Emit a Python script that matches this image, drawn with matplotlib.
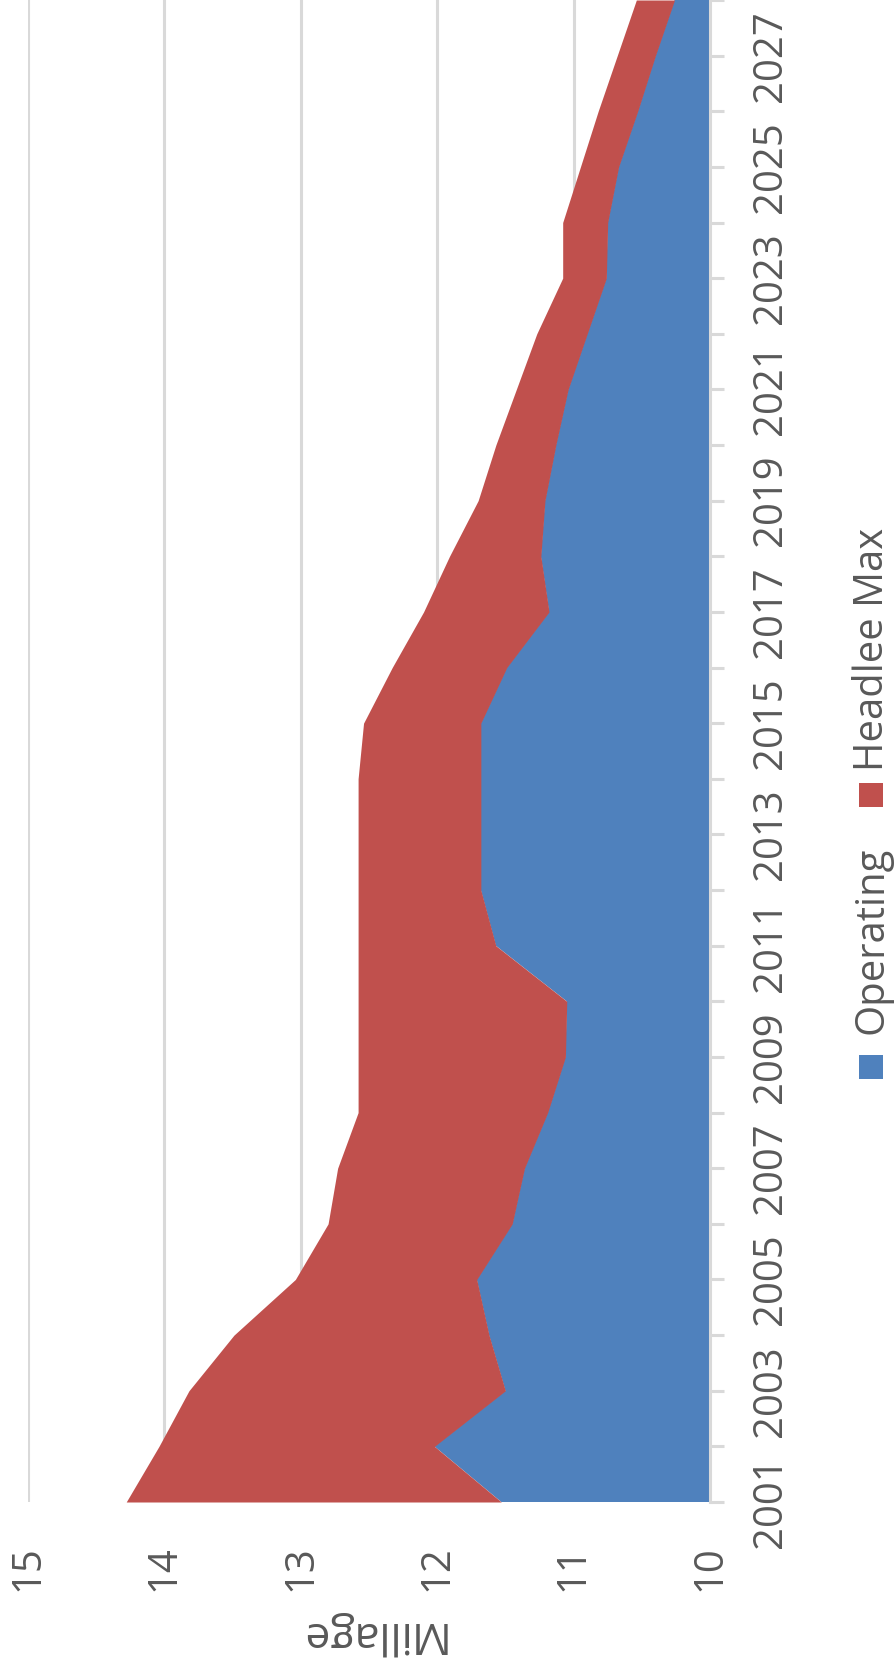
import matplotlib
matplotlib.use("Agg")
import matplotlib.pyplot as plt
from matplotlib.patches import Rectangle
import numpy as np

# Millage by year: operating levy plus the additional Headlee maximum on top
years = list(range(2001, 2029))
operating = [11.53, 12.02, 11.50, 11.62, 11.71, 11.45, 11.36, 11.19, 11.06, 11.05,
             11.57, 11.68, 11.68, 11.68, 11.68, 11.49, 11.18, 11.24, 11.21, 11.13,
             11.04, 10.90, 10.76, 10.75, 10.67, 10.53, 10.40, 10.26]
headlee_max = [2.75, 2.02, 2.32, 1.87, 1.33, 1.35, 1.37, 1.39, 1.52, 1.53,
               1.01, 0.90, 0.90, 0.90, 0.86, 0.84, 0.92, 0.67, 0.49, 0.44,
               0.38, 0.37, 0.32, 0.33, 0.28, 0.29, 0.28, 0.28]
series_names = ["Operating", "Headlee Max"]
value_ticks = [10, 11, 12, 13, 14, 15]
year_labels = [str(y) for y in range(2001, 2029, 2)]

BLUE = "#4F81BD"
RED = "#C0504D"
GRID = "#D9D9D9"
TEXT = "#595959"

plt.rcParams["font.family"] = ["Open Sans", "DejaVu Sans"]

W, H = 895, 1663
fig = plt.figure(figsize=(W / 100, H / 100), dpi=100)

# plot area in pixel terms
left_px, right_px, top_px, bottom_px = 28, 710, 0, 1502
ax = fig.add_axes([left_px / W, 1 - bottom_px / H,
                   (right_px - left_px) / W, (bottom_px - top_px) / H])

yrs = np.array(years, dtype=float)
op = np.array(operating)
top = op + np.array(headlee_max)

ax.fill_betweenx(yrs, 0, op, color=BLUE, linewidth=0, zorder=2)
ax.fill_betweenx(yrs, op, top, color=RED, linewidth=0, zorder=2)

ax.set_xlim(15, 10)
ax.set_ylim(2001, 2027.95)

# value axis: gridlines, labels only
ax.set_xticks(value_ticks)
ax.set_xticklabels([str(v) for v in value_ticks], rotation=90, color=TEXT,
                   fontsize=28.8)
ax.tick_params(axis="x", length=0, pad=31)
ax.grid(axis="x", color=GRID, linewidth=2.2, zorder=0)
ax.set_axisbelow(True)

# category axis on the right
ax.yaxis.tick_right()
ax.set_yticks(range(2001, 2029, 2))
ax.set_yticks(range(2002, 2029, 2), minor=True)
ax.set_yticklabels(year_labels, rotation=90, va="center", color=TEXT,
                   fontsize=28.8)
ax.tick_params(axis="y", which="both", direction="out", length=10, width=2.2,
               color=GRID, pad=19, left=False, right=True)
ax.tick_params(axis="y", which="minor", labelright=False)

for side in ["left", "top", "bottom"]:
    ax.spines[side].set_visible(False)
ax.spines["right"].set_color(GRID)
ax.spines["right"].set_linewidth(2.2)
ax.spines["right"].set_zorder(3)

# axis title
fig.text(370 / W, 1 - 1622 / H, "Millage", rotation=180, rotation_mode="anchor",
         ha="center", va="baseline", color=TEXT, fontsize=32)

# legend, drawn vertically along the right edge
legend_items = [
    (series_names[0], BLUE, 1055, 1034),
    (series_names[1], RED, 783, 771),
]
for name, color, sq_top, text_start in legend_items:
    sq = 24
    fig.patches.append(Rectangle((859 / W, 1 - (sq_top + sq) / H), sq / W, sq / H,
                                 transform=fig.transFigure, facecolor=color,
                                 edgecolor="none"))
    fig.text(883 / W, 1 - text_start / H, name, rotation=90, rotation_mode="anchor",
             ha="left", va="baseline", color=TEXT, fontsize=28.8)

fig.savefig("out.png", dpi=100)
